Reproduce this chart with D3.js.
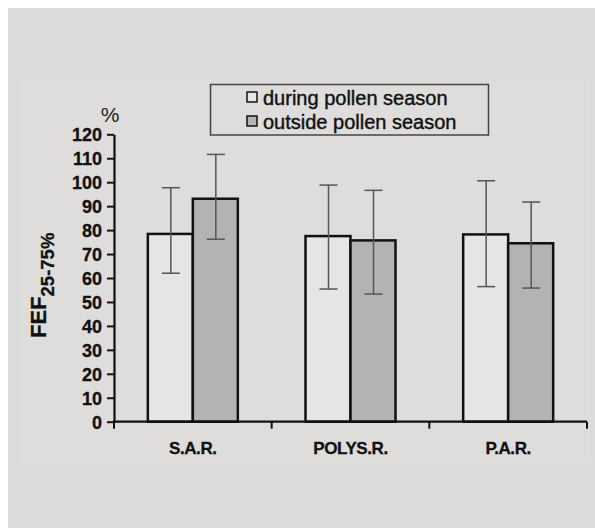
<!DOCTYPE html>
<html>
<head>
<meta charset="utf-8">
<script src="https://cdn.jsdelivr.net/npm/d3@7"></script>
<style>
  body { margin: 0; background: #fff; }
  svg { display: block; font-family: "Liberation Sans", Arial, sans-serif; }
</style>
</head>
<body>
<div id="chart"></div>
<script>
// values (FEF25-75%, % predicted)
var categories = ["S.A.R.", "POLYS.R.", "P.A.R."];
var series = ["during pollen season", "outside pollen season"];
var during = [78.4, 77.5, 78.2];
var duringLow = [62.0, 55.4, 56.4];
var duringHigh = [97.7, 98.8, 100.6];
var outside = [93.1, 75.7, 74.5];
var outsideLow = [76.2, 53.3, 55.8];
var outsideHigh = [111.6, 96.6, 91.7];
var yTicks = [0, 10, 20, 30, 40, 50, 60, 70, 80, 90, 100, 110, 120];

var width = 595,
    height = 528;

var svg = d3.select('#chart').append('svg')
    .attr('width', width)
    .attr('height', height);

// backgrounds
svg.append('rect')
    .attr('x', 8).attr('y', 8)
    .attr('width', width - 8).attr('height', height - 8)
    .style('fill', '#dadbdd');
svg.append('rect')
    .attr('x', 20).attr('y', 80)
    .attr('width', 571).attr('height', 383)
    .style('fill', '#dedddb');

var y = d3.scaleLinear()
    .domain([0, 120])
    .range([421.7, 134.3]);

var x0 = d3.scaleBand()
    .domain(categories)
    .range([114, 587]);

var x1 = d3.scaleBand()
    .domain(series)
    .range([0, x0.bandwidth()])
    .paddingOuter(0.752);

var colors = ['#e5e5e5', '#b3b3b3'];

var rows = categories.map(function(c, i) {
    return [
        {cat: c, s: series[0], v: during[i], lo: duringLow[i], hi: duringHigh[i]},
        {cat: c, s: series[1], v: outside[i], lo: outsideLow[i], hi: outsideHigh[i]}
    ];
});

var groups = svg.append('g').selectAll('g')
    .data(rows)
    .enter().append('g')
    .attr('transform', function(d) { return 'translate(' + x0(d[0].cat) + ',0)'; });

groups.selectAll('rect')
    .data(function(d) { return d; })
    .enter().append('rect')
    .attr('x', function(d) { return x1(d.s); })
    .attr('y', function(d) { return y(d.v); })
    .attr('width', x1.bandwidth())
    .attr('height', function(d) { return y(0) - y(d.v); })
    .style('fill', function(d, i) { return colors[i]; })
    .style('stroke', '#111')
    .style('stroke-width', 2.5);

// error bars
var err = groups.selectAll('g.err')
    .data(function(d) { return d; })
    .enter().append('g')
    .attr('class', 'err')
    .attr('transform', function(d) { return 'translate(' + (x1(d.s) + x1.bandwidth() / 2 + 0.5) + ',0)'; })
    .style('stroke', '#555')
    .style('stroke-width', 1.5);

err.append('line')
    .attr('y1', function(d) { return y(d.lo); })
    .attr('y2', function(d) { return y(d.hi); });
err.append('line')
    .attr('x1', -9).attr('x2', 9)
    .attr('y1', function(d) { return y(d.hi); })
    .attr('y2', function(d) { return y(d.hi); });
err.append('line')
    .attr('x1', -9).attr('x2', 9)
    .attr('y1', function(d) { return y(d.lo); })
    .attr('y2', function(d) { return y(d.lo); });

// y axis
var yAxis = svg.append('g')
    .attr('transform', 'translate(114,0)')
    .call(d3.axisLeft(y).tickValues(yTicks).tickSize(7).tickSizeOuter(0).tickPadding(5));
yAxis.select('.domain').style('stroke', '#111').style('stroke-width', 2.2);
yAxis.selectAll('.tick line').style('stroke', '#111').style('stroke-width', 2);
yAxis.selectAll('.tick text')
    .style('font-size', '18px')
    .style('font-weight', 'bold')
    .style('fill', '#111')
    .style('stroke', '#111')
    .style('stroke-width', 0.3)
    .attr('dy', '0.36em');

// x axis
var xAxis = svg.append('g');
xAxis.append('line')
    .attr('x1', x0.range()[0] - 1).attr('x2', x0.range()[1])
    .attr('y1', y(0)).attr('y2', y(0))
    .style('stroke', '#111').style('stroke-width', 2.2);
var xTickPos = categories.map(function(c) { return x0(c); }).concat([x0.range()[1]]);
xAxis.selectAll('line.tk')
    .data(xTickPos)
    .enter().append('line')
    .attr('class', 'tk')
    .attr('x1', function(d) { return d; }).attr('x2', function(d) { return d; })
    .attr('y1', y(0)).attr('y2', y(0) + 7)
    .style('stroke', '#111').style('stroke-width', 2);
xAxis.selectAll('text')
    .data(categories)
    .enter().append('text')
    .attr('x', function(d) { return x0(d) + x0.bandwidth() / 2; })
    .attr('y', 454)
    .attr('text-anchor', 'middle')
    .style('font-size', '17px')
    .style('font-weight', 'bold')
    .style('letter-spacing', '-0.4px')
    .style('fill', '#111')
    .style('stroke', '#111')
    .style('stroke-width', 0.3)
    .text(function(d) { return d; });

// unit and axis title
svg.append('text')
    .attr('x', 110).attr('y', 122)
    .attr('text-anchor', 'middle')
    .style('font-size', '21px')
    .style('fill', '#222')
    .text('%');

var title = svg.append('text')
    .attr('transform', 'translate(46,338) rotate(-90)')
    .style('font-weight', 'bold')
    .style('fill', '#111')
    .style('stroke', '#111')
    .style('stroke-width', 0.3);
title.append('tspan')
    .style('font-size', '22px')
    .text('FEF');
title.append('tspan')
    .attr('dy', 8)
    .style('font-size', '18.5px')
    .text('25-75%');

// legend
var legend = svg.append('g');
legend.append('rect')
    .attr('x', 210.5).attr('y', 84.5)
    .attr('width', 278).attr('height', 50.5)
    .style('fill', 'none')
    .style('stroke', '#444')
    .style('stroke-width', 1.5);

var item = legend.selectAll('g')
    .data(series)
    .enter().append('g')
    .attr('transform', function(d, i) { return 'translate(247,' + (92 + i * 24) + ')'; });
item.append('rect')
    .attr('width', 10).attr('height', 10)
    .style('fill', function(d, i) { return colors[i]; })
    .style('stroke', '#111')
    .style('stroke-width', 1.5);
item.append('text')
    .attr('x', 16).attr('y', 13)
    .style('font-size', '20px')
    .style('fill', '#111')
    .style('stroke', '#111')
    .style('stroke-width', 0.4)
    .text(function(d) { return d; });
</script>
</body>
</html>
